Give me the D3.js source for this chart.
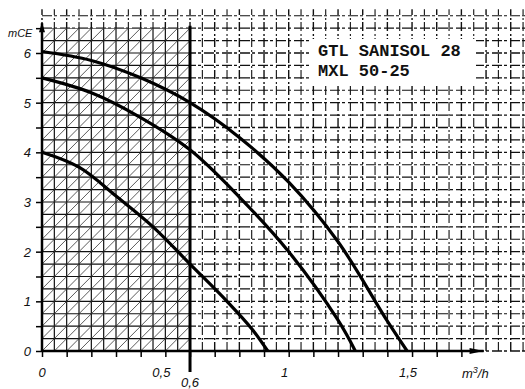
<!DOCTYPE html>
<html>
<head>
<meta charset="utf-8">
<script src="https://cdn.jsdelivr.net/npm/d3@7"></script>
<style>
  body { margin: 0; background: #fff; }
  svg { display: block; }
</style>
</head>
<body>
<div id="chart"></div>
<script>
// pump curves: flow (m3/h) vs head (mCE)
const flowLow  = [0, 0.15, 0.3, 0.45, 0.6, 0.75, 0.85, 0.915];
const headLow  = [4.0, 3.7, 3.12, 2.5, 1.75, 1.0, 0.45, 0];
const flowMid  = [0, 0.2, 0.4, 0.6, 0.8, 1.0, 1.2, 1.27];
const headMid  = [5.5, 5.2, 4.7, 4.05, 3.1, 2.0, 0.62, 0];
const flowHigh = [0, 0.2, 0.4, 0.6, 0.8, 1.0, 1.2, 1.4, 1.48];
const headHigh = [6.03, 5.85, 5.5, 5.0, 4.3, 3.4, 2.2, 0.6, 0];

const yTickLabels = [0, 1, 2, 3, 4, 5, 6];
const xTickLabels = ['0', '0,5', '1', '1,5'];
const xTickValues = [0, 0.5, 1, 1.5];
const dutyFlow = 0.6;
const titleLines = ['GTL SANISOL 28', 'MXL 50-25'];

const width = 525, height = 389;
const x = d3.scaleLinear().domain([0, 1]).range([42, 288.7]);
const y = d3.scaleLinear().domain([0, 6]).range([351, 53]);

const svg = d3.select('#chart').append('svg')
  .attr('width', width)
  .attr('height', height);

// clip for hatched zone (0 .. 0.6)
svg.append('defs').append('clipPath')
  .attr('id', 'hatchClip')
  .append('rect')
  .attr('x', x(0)).attr('y', y(6.5))
  .attr('width', x(dutyFlow) - x(0))
  .attr('height', y(0) - y(6.5));

// grid
const vLines = d3.range(0, 40).map(i => i * 0.05);
const hLines = d3.range(0, 28).map(i => i * 0.25);

const grid = svg.append('g');
grid.selectAll('.vg')
  .data(vLines)
  .enter().append('line')
  .attr('x1', d => x(d)).attr('x2', d => x(d))
  .attr('y1', y(0)).attr('y2', y(6.88))
  .attr('stroke', '#111')
  .attr('stroke-width', d => (Math.round(d * 20) % 2 === 0 ? 1.4 : 1.1))
  .attr('stroke-dasharray', '9,2,2,3');

grid.selectAll('.hg')
  .data(hLines)
  .enter().append('line')
  .attr('x1', x(0)).attr('x2', width)
  .attr('y1', d => y(d)).attr('y2', d => y(d))
  .attr('stroke', '#111')
  .attr('stroke-width', d => (Math.round(d * 4) % 2 === 0 ? 1.4 : 1.1))
  .attr('stroke-dasharray', '10,2,3,3');

// solid grid + hatch inside the hatched zone
const hz = svg.append('g').attr('clip-path', 'url(#hatchClip)');
hz.append('rect')
  .attr('x', x(0)).attr('y', y(6.5))
  .attr('width', x(dutyFlow) - x(0))
  .attr('height', y(0) - y(6.5))
  .attr('fill', '#fff');
hz.selectAll('.vs')
  .data(vLines)
  .enter().append('line')
  .attr('x1', d => x(d)).attr('x2', d => x(d))
  .attr('y1', y(0)).attr('y2', y(6.9))
  .attr('stroke', '#111').attr('stroke-width', 1.2);
hz.selectAll('.hs')
  .data(hLines)
  .enter().append('line')
  .attr('x1', x(0)).attr('x2', x(dutyFlow))
  .attr('y1', d => y(d)).attr('y2', d => y(d))
  .attr('stroke', '#111').attr('stroke-width', 1.2);
hz.selectAll('.hatch')
  .data(d3.range(-30, 14))
  .enter().append('line')
  .attr('x1', d => x(d * 0.05)).attr('y1', y(0))
  .attr('x2', d => x(d * 0.05 + 0.05 * 28)).attr('y2', y(7))
  .attr('stroke', '#333').attr('stroke-width', 0.8);

// white box for the title
svg.append('rect')
  .attr('x', 310).attr('y', 39)
  .attr('width', 166).attr('height', 46)
  .attr('fill', '#fff');
svg.selectAll('.title')
  .data(titleLines)
  .enter().append('text')
  .attr('x', 318)
  .attr('y', (d, i) => 56 + i * 20)
  .attr('font-family', 'Liberation Mono, DejaVu Sans Mono, monospace')
  .attr('font-weight', 'bold')
  .attr('font-size', 17)
  .attr('fill', '#111')
  .text(d => d);

// thick duty line at 0.6
svg.append('line')
  .attr('x1', x(dutyFlow)).attr('x2', x(dutyFlow))
  .attr('y1', y(6.55)).attr('y2', 372)
  .attr('stroke', '#000').attr('stroke-width', 3);

// axes
svg.append('g')
  .attr('transform', `translate(0,${y(0)})`)
  .call(d3.axisBottom(x).tickValues(d3.range(0, 18).map(i => i * 0.1)).tickSize(6).tickFormat(''))
  .call(g => g.select('.domain').attr('stroke-width', 2.5).attr('d', `M${x(0)},0H${x(1.79)}`))
  .call(g => g.selectAll('.tick line').attr('stroke-width', 1.5));

svg.append('g')
  .attr('transform', `translate(${x(0)},0)`)
  .call(d3.axisLeft(y).tickValues(d3.range(0, 14).map(i => i * 0.5)).tickSize(6).tickFormat(''))
  .call(g => g.select('.domain').attr('stroke-width', 2.5).attr('d', `M0,${y(0)}V${y(6.6)}`))
  .call(g => g.selectAll('.tick line').attr('stroke-width', 1.5));

// arrow heads
svg.append('path')
  .attr('d', `M${x(1.79)},${y(0)} l-14,-3 l0,6 z`)
  .attr('fill', '#000');
svg.append('path')
  .attr('d', `M${x(0)},${y(6.62)} l-3,10 l6,0 z`)
  .attr('fill', '#000');

// curves
const line = d3.line().x(d => x(d[0])).y(d => y(d[1])).curve(d3.curveCatmullRom.alpha(0.5));
[[flowLow, headLow], [flowMid, headMid], [flowHigh, headHigh]].forEach(([f, h]) => {
  svg.append('path')
    .datum(f.map((v, i) => [v, h[i]]))
    .attr('fill', 'none')
    .attr('stroke', '#000')
    .attr('stroke-width', 3.2)
    .attr('d', line);
});

// labels
const lab = { 'font-family': 'Liberation Sans, Arial, sans-serif', 'font-style': 'italic', 'font-size': 13, 'fill': '#111' };
const styleLab = sel => { for (const k in lab) sel.attr(k, lab[k]); };

svg.selectAll('.ylab')
  .data(yTickLabels)
  .enter().append('text')
  .attr('x', 31)
  .attr('y', d => y(d) + 5)
  .attr('text-anchor', 'end')
  .call(styleLab)
  .text(d => d);

svg.selectAll('.xlab')
  .data(xTickValues)
  .enter().append('text')
  .attr('x', d => x(d) - (d === 0 ? 0 : 4))
  .attr('y', 377)
  .attr('text-anchor', 'middle')
  .call(styleLab)
  .text((d, i) => xTickLabels[i]);

svg.append('text')
  .attr('x', x(dutyFlow)).attr('y', 387)
  .attr('text-anchor', 'middle')
  .call(styleLab)
  .text('0,6');

svg.append('text')
  .attr('x', 8).attr('y', 37)
  .call(styleLab)
  .attr('font-size', 11)
  .text('mCE');

const unit = svg.append('text')
  .attr('x', 462).attr('y', 378)
  .call(styleLab);
unit.append('tspan').text('m');
unit.append('tspan').attr('dy', -5).attr('font-size', 9).text('3');
unit.append('tspan').attr('dy', 5).text('/h');
</script>
</body>
</html>
